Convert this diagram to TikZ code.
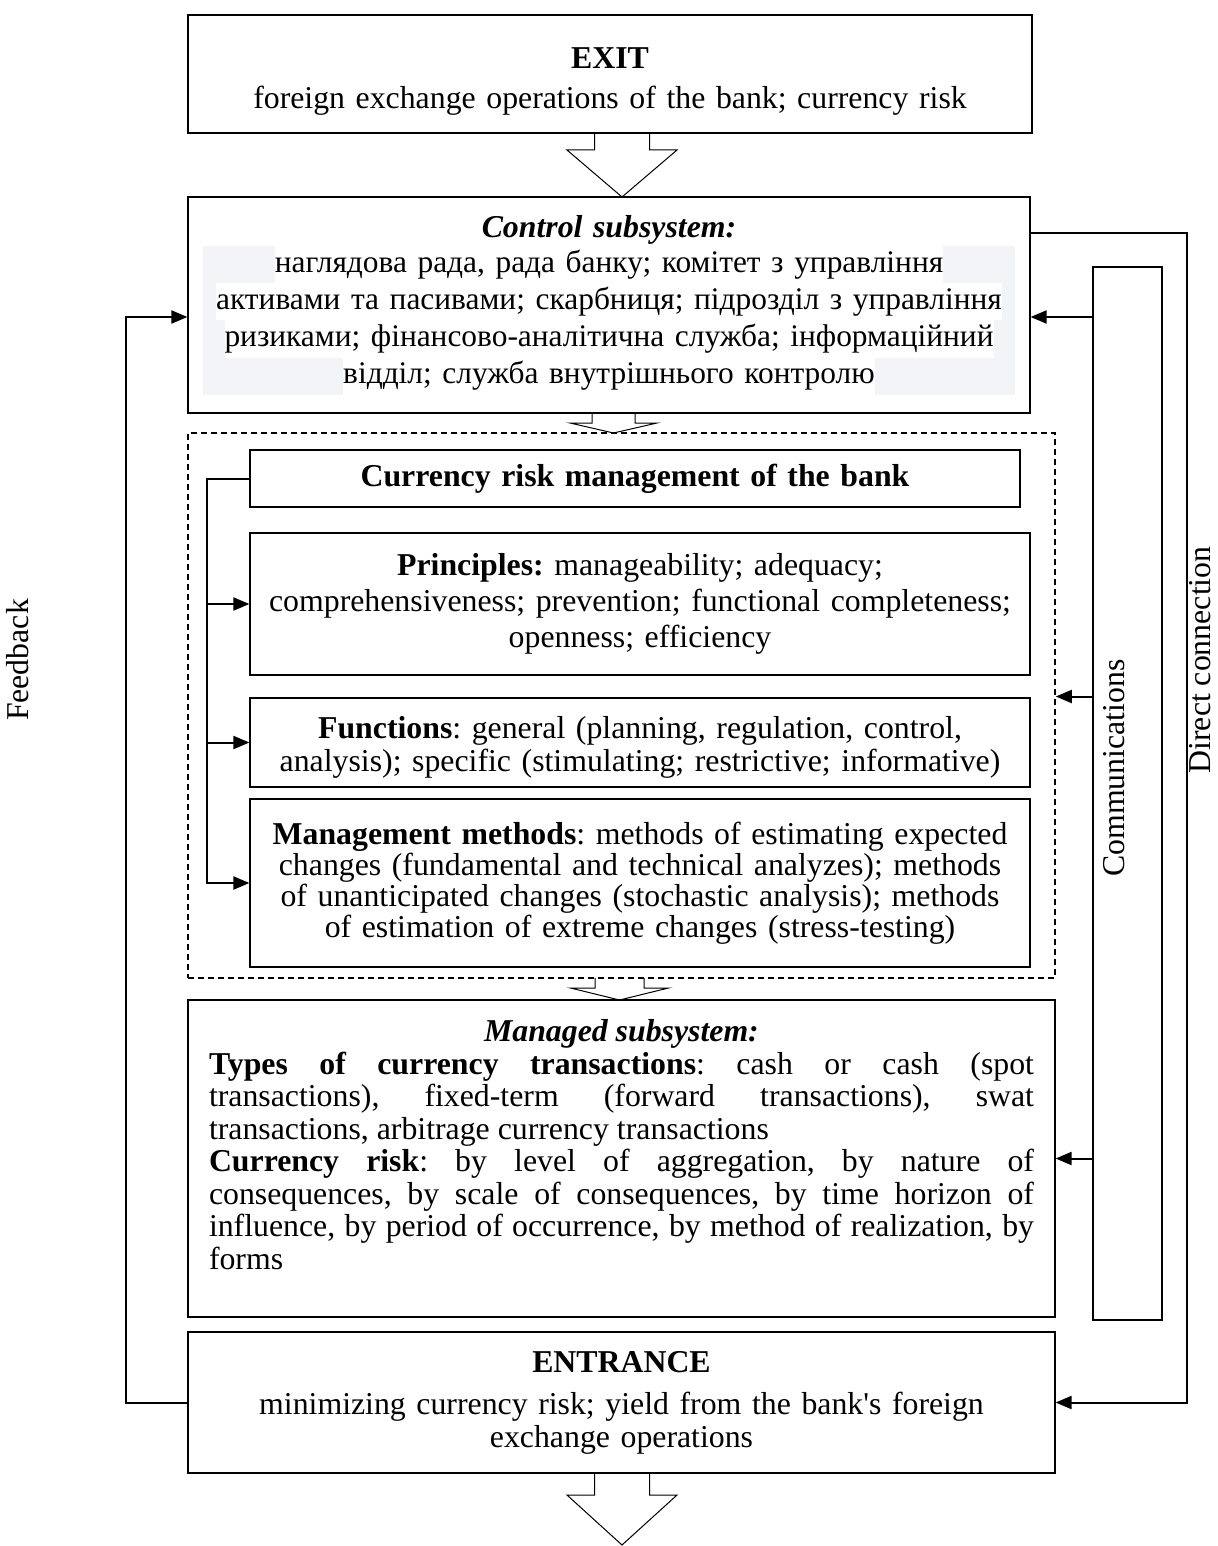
\documentclass[tikz,border=0pt]{standalone}
\usepackage{fontspec}
\setmainfont{Liberation Serif}
\usepackage{xcolor}
\definecolor{paleshade}{RGB}{243,244,247}
\usepackage{tikz}
\usetikzlibrary{arrows.meta, calc}
\setlength{\fboxsep}{0pt}
\frenchspacing
\newcommand{\bodyfont}{\fontsize{15.9}{16.25}\selectfont}
\newcommand{\cyrline}[1]{\colorbox{white}{\strut #1}}
% hollow block arrow: x, shaft half, head half, y top, y head, y tip
\newcommand{\blockarrow}[6]{%
  \draw[line width=0.5pt] (#1-#2,#4) -- (#1-#2,#5) -- (#1-#3,#5) -- (#1,#6)
    -- (#1+#3,#5) -- (#1+#2,#5) -- (#1+#2,#4);}

\begin{document}
\begin{tikzpicture}[x=0.5pt, y=-0.5pt,
    box/.style={draw, line width=0.6pt, inner sep=0pt, align=center, font=\bodyfont},
    conn/.style={line width=1pt, -{Triangle[length=8pt,width=6.5pt]}},
    sidetext/.style={rotate=90, anchor=base, inner sep=0pt, font=\bodyfont}]
  \useasboundingbox (0,0) rectangle (1217,1546);

  \node[box, minimum width=422pt, minimum height=59pt, text width=415pt] (exit) at (610,74)
    {\rule{0pt}{18pt}\textbf{EXIT}\\[4pt] foreign exchange operations of the bank; currency risk};
  \node[box, minimum width=421pt, minimum height=108pt, text width=415pt] (ctrl) at (609,305)
    {\textbf{\textit{Control subsystem:}}\\
     \colorbox{paleshade}{\parbox[t]{406pt}{\centering\fontsize{15.7}{18.6}\selectfont
       \cyrline{наглядова рада, рада банку; комітет з управління}\\
       \cyrline{активами та пасивами; скарбниця; підрозділ з управління}\\
       \cyrline{ризиками; фінансово-аналітична служба; інформаційний}\\
       \cyrline{відділ; служба внутрішнього контролю}}}\rule[-10pt]{0pt}{1pt}};

  \node[box, dashed, dash pattern=on 3pt off 2pt, line width=0.75pt,
    minimum width=433.5pt, minimum height=272.5pt] (frame) at (621.5,705.5) {};
  \node[box, minimum width=385pt, minimum height=28.5pt, text width=380pt] (curm) at (635,478.5)
    {\textbf{Currency risk management of the bank}};
  \node[box, minimum width=390pt, minimum height=71pt, text width=386pt,
    font=\fontsize{15.9}{18}\selectfont] (princ) at (640,604)
    {\textbf{Principles:} manageability; adequacy;\\
     comprehensiveness; prevention; functional completeness;\\
     openness; efficiency};
  \node[box, minimum width=390pt, minimum height=44.5pt, text width=386pt] (func) at (640,742.5)
    {\rule{0pt}{16pt}\textbf{Functions}: general (planning, regulation, control,\\
     analysis); specific (stimulating; restrictive; informative)};
  \node[box, minimum width=390pt, minimum height=84pt, text width=386pt,
    font=\fontsize{15.9}{15.5}\selectfont] (meth) at (640,883)
    {\textbf{Management methods}: methods of estimating expected\\
     changes (fundamental and technical analyzes); methods\\
     of unanticipated changes (stochastic analysis); methods\\
     of estimation of extreme changes (stress-testing)};

  \node[box, minimum width=433.5pt, minimum height=158.5pt, text width=412.5pt,
    align=justify] (managed) at (621.5,1158.5)
    {\hyphenpenalty=10000\exhyphenpenalty=10000
     {\centering\textbf{\textit{Managed subsystem:}}\par}
     \textbf{Types of currency transactions}: cash or cash (spot\linebreak
     transactions), fixed-term (forward transactions), swat\linebreak
     transactions, arbitrage currency transactions\par
     \textbf{Currency risk}: by level of aggregation, by nature of\linebreak
     consequences, by scale of consequences, by time horizon of\linebreak
     influence, by period of occurrence, by method of realization, by\linebreak
     forms\rule[-14pt]{0pt}{1pt}};
  \node[box, minimum width=433.5pt, minimum height=70.5pt, text width=425pt] (entr) at (621.5,1402.5)
    {\textbf{ENTRANCE}\\[5pt] minimizing currency risk; yield from the bank\textquotesingle s foreign\\
     exchange operations};

  \node[box, minimum width=34.5pt, minimum height=526.5pt] (comm) at (1127.5,793.5) {};

  \blockarrow{622}{27.5}{55}{133}{150}{197}
  \blockarrow{613.5}{21.5}{43.5}{413}{423}{433}
  \blockarrow{619.5}{24.5}{49}{978}{988}{1000}
  \blockarrow{622}{27.5}{55}{1473}{1495}{1545}

  \coordinate (fbin) at ($(ctrl.west)+(0,12)$);
  \coordinate (ctrlin) at ($(ctrl.east)+(0,12)$);
  \coordinate (dcout) at ($(ctrl.north east)+(0,37)$);
  \coordinate (fmin) at ($(frame.east)+(0,-9)$);
  \coordinate (brk) at ($(curm.west)+(-42,0)$);

  \draw[conn] (entr.west) -- ++(-61,0) |- (fbin);
  \draw[conn] (dcout) -- ++(156,0) |- (entr.east);
  \draw[conn] (comm.west |- ctrlin) -- (ctrlin);
  \draw[conn] (comm.west |- fmin) -- (fmin);
  \draw[conn] (comm.west |- managed.east) -- (managed.east);
  \draw[conn] (curm.west) -- (brk) |- (meth.west);
  \draw[conn] (brk |- princ.west) -- (princ.west);
  \draw[conn] (brk |- func.west) -- (func.west);

  \node[sidetext] (fblabel) at (28,660) {Feedback};
  \node[sidetext] (commlabel) at (1124,768) {Communications};
  \node[sidetext] (dclabel) at (1210,660) {Direct connection};
\end{tikzpicture}
\end{document}
